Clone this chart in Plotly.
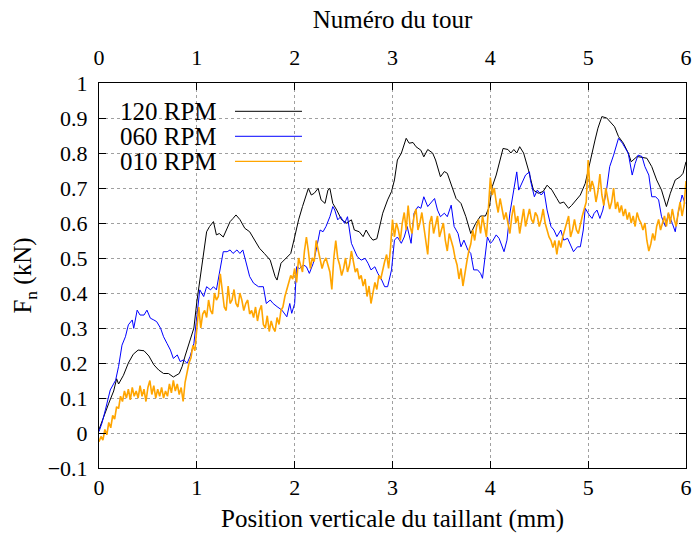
import numpy as np
import plotly.graph_objects as go

# ---- data ----
black_x = [0.0,0.05,0.1,0.15,0.18,0.2,0.25,0.3,0.35,0.4,
           0.46,0.51,0.56,0.61,0.66,0.71,0.76,0.82,0.85,0.88,
           0.94,0.97,1.0,1.03,1.07,1.1,1.13,1.17,1.2,1.23,
           1.27,1.3,1.34,1.37,1.4,1.44,1.49,1.54,1.59,1.64,
           1.69,1.75,1.8,1.82,1.86,1.91,1.96,2.0,2.04,2.08,
           2.14,2.17,2.2,2.24,2.27,2.31,2.34,2.36,2.39,2.43,
           2.48,2.53,2.58,2.61,2.66,2.7,2.73,2.77,2.8,2.84,
           2.87,2.9,2.95,2.99,3.02,3.05,3.09,3.14,3.17,3.21,
           3.24,3.29,3.32,3.36,3.41,3.44,3.49,3.53,3.56,3.61,
           3.65,3.7,3.75,3.8,3.85,3.9,3.95,3.99,4.02,4.06,
           4.1,4.13,4.18,4.21,4.24,4.27,4.3,4.34,4.39,4.44,
           4.49,4.54,4.58,4.63,4.68,4.71,4.75,4.8,4.83,4.88,
           4.92,4.97,5.02,5.07,5.1,5.14,5.19,5.24,5.27,5.31,
           5.36,5.41,5.44,5.5,5.55,5.6,5.65,5.7,5.75,5.8,
           5.84,5.89,5.94,5.97,6.0]
black_y = [0.01,0.05,0.085,0.12,0.155,0.14,0.165,0.2,0.225,0.237,
           0.235,0.22,0.195,0.18,0.17,0.17,0.16,0.17,0.19,0.22,
           0.275,0.3,0.375,0.437,0.523,0.575,0.59,0.604,0.566,0.57,
           0.56,0.58,0.604,0.613,0.623,0.61,0.585,0.575,0.551,0.528,
           0.513,0.494,0.447,0.437,0.485,0.5,0.513,0.56,0.609,0.647,
           0.699,0.68,0.685,0.699,0.666,0.656,0.694,0.699,0.656,0.637,
           0.609,0.6,0.609,0.58,0.575,0.561,0.58,0.561,0.551,0.555,
           0.59,0.628,0.666,0.69,0.723,0.78,0.799,0.842,0.828,0.83,
           0.818,0.808,0.789,0.81,0.8,0.78,0.732,0.747,0.742,0.704,
           0.67,0.656,0.618,0.57,0.599,0.62,0.62,0.647,0.704,0.737,
           0.78,0.813,0.81,0.8,0.81,0.8,0.818,0.8,0.751,0.694,
           0.685,0.69,0.708,0.694,0.67,0.656,0.66,0.642,0.65,0.665,
           0.68,0.713,0.78,0.837,0.871,0.904,0.9,0.885,0.875,0.847,
           0.828,0.8,0.775,0.79,0.787,0.785,0.761,0.723,0.694,0.647,
           0.685,0.723,0.732,0.742,0.775]

blue_x = [0.0,0.03,0.065,0.115,0.17,0.2,0.235,0.27,0.3,0.34,
          0.355,0.39,0.42,0.46,0.49,0.525,0.56,0.59,0.63,0.66,
          0.695,0.73,0.76,0.8,0.83,0.865,0.9,0.93,0.97,1.0,
          1.03,1.07,1.1,1.14,1.17,1.2,1.24,1.27,1.31,1.34,
          1.37,1.41,1.44,1.47,1.51,1.54,1.58,1.63,1.68,1.71,
          1.75,1.78,1.82,1.87,1.92,1.95,1.97,2.0,2.02,2.05,
          2.09,2.12,2.15,2.19,2.22,2.26,2.29,2.32,2.36,2.39,
          2.41,2.44,2.47,2.51,2.54,2.58,2.61,2.64,2.68,2.72,
          2.75,2.78,2.82,2.85,2.89,2.92,2.95,2.99,3.02,3.05,
          3.09,3.12,3.15,3.19,3.22,3.26,3.29,3.32,3.36,3.39,
          3.43,3.46,3.49,3.53,3.56,3.6,3.63,3.67,3.7,3.73,
          3.77,3.8,3.83,3.87,3.9,3.92,3.95,3.97,4.0,4.02,
          4.06,4.09,4.14,4.17,4.2,4.24,4.27,4.29,4.33,4.36,
          4.4,4.41,4.45,4.48,4.52,4.55,4.58,4.62,4.65,4.68,
          4.72,4.75,4.79,4.82,4.85,4.89,4.92,4.95,4.97,5.01,
          5.04,5.06,5.09,5.12,5.15,5.19,5.22,5.26,5.29,5.31,
          5.35,5.38,5.41,5.45,5.48,5.51,5.55,5.58,5.62,5.65,
          5.69,5.72,5.75,5.79,5.82,5.86,5.89,5.92,5.96,5.99]
blue_y = [0.004,0.028,0.066,0.123,0.151,0.19,0.251,0.275,0.309,0.323,
          0.299,0.351,0.337,0.337,0.351,0.328,0.323,0.318,0.299,0.275,
          0.256,0.237,0.213,0.223,0.204,0.209,0.199,0.218,0.256,0.332,
          0.409,0.39,0.418,0.409,0.418,0.409,0.466,0.518,0.518,0.523,
          0.513,0.523,0.513,0.523,0.48,0.447,0.428,0.418,0.418,0.37,
          0.38,0.37,0.361,0.351,0.332,0.37,0.342,0.37,0.475,0.47,
          0.48,0.475,0.456,0.485,0.523,0.58,0.575,0.59,0.618,0.647,
          0.637,0.609,0.618,0.599,0.618,0.542,0.523,0.504,0.494,0.499,
          0.485,0.466,0.475,0.456,0.437,0.418,0.418,0.466,0.551,0.56,
          0.542,0.56,0.59,0.542,0.628,0.647,0.642,0.675,0.647,0.656,
          0.67,0.637,0.618,0.628,0.618,0.651,0.59,0.57,0.532,0.551,
          0.523,0.513,0.466,0.466,0.456,0.442,0.504,0.56,0.542,0.547,
          0.566,0.556,0.518,0.551,0.628,0.699,0.746,0.694,0.718,0.737,
          0.746,0.722,0.675,0.694,0.68,0.69,0.637,0.59,0.58,0.561,
          0.58,0.551,0.556,0.537,0.518,0.532,0.532,0.58,0.642,0.623,
          0.613,0.627,0.637,0.613,0.637,0.699,0.761,0.794,0.828,0.842,
          0.828,0.813,0.799,0.737,0.77,0.794,0.79,0.761,0.737,0.675,
          0.675,0.666,0.618,0.59,0.628,0.599,0.575,0.628,0.68,0.656]

orange_x = np.round(np.arange(301) * 0.02, 2)
orange_y = [
    -0.025,-0.01,-0.02,0.01,-0.005,0.03,0.015,0.05,0.04,0.075,
    0.07,0.105,0.09,0.12,0.10,0.125,0.095,0.13,0.105,0.12,
    0.10,0.135,0.105,0.125,0.09,0.13,0.15,0.11,0.135,0.10,
    0.125,0.105,0.13,0.10,0.12,0.105,0.14,0.115,0.15,0.12,
    0.14,0.11,0.13,0.09,0.145,0.17,0.20,0.215,0.25,0.235,
    0.30,0.36,0.30,0.34,0.35,0.33,0.38,0.35,0.34,0.40,
    0.38,0.39,0.455,0.40,0.36,0.35,0.42,0.37,0.38,0.41,
    0.37,0.36,0.40,0.38,0.35,0.37,0.38,0.34,0.35,0.33,
    0.36,0.32,0.35,0.365,0.31,0.30,0.335,0.29,0.32,0.30,
    0.29,0.33,0.31,0.35,0.36,0.39,0.41,0.43,0.45,0.44,
    0.47,0.43,0.50,0.48,0.46,0.52,0.56,0.52,0.47,0.50,
    0.49,0.55,0.52,0.50,0.47,0.49,0.50,0.48,0.46,0.41,
    0.50,0.55,0.50,0.48,0.45,0.47,0.50,0.46,0.48,0.52,
    0.49,0.46,0.47,0.44,0.45,0.42,0.44,0.39,0.42,0.37,
    0.40,0.43,0.41,0.45,0.44,0.47,0.49,0.51,0.47,0.53,
    0.61,0.56,0.60,0.58,0.55,0.60,0.63,0.58,0.65,0.59,
    0.57,0.62,0.64,0.58,0.60,0.63,0.59,0.56,0.51,0.60,
    0.62,0.57,0.60,0.62,0.56,0.58,0.60,0.55,0.52,0.57,
    0.55,0.53,0.50,0.48,0.44,0.47,0.42,0.46,0.49,0.52,
    0.54,0.58,0.55,0.59,0.61,0.57,0.62,0.59,0.56,0.64,
    0.73,0.68,0.70,0.66,0.63,0.67,0.64,0.61,0.63,0.60,
    0.57,0.62,0.65,0.60,0.62,0.57,0.61,0.64,0.59,0.62,
    0.64,0.61,0.60,0.63,0.62,0.59,0.61,0.64,0.60,0.58,
    0.56,0.55,0.53,0.55,0.51,0.55,0.53,0.56,0.58,0.60,
    0.62,0.56,0.58,0.61,0.58,0.57,0.60,0.62,0.64,0.66,
    0.78,0.69,0.72,0.70,0.66,0.69,0.74,0.68,0.65,0.70,
    0.67,0.64,0.66,0.70,0.64,0.66,0.63,0.65,0.62,0.64,
    0.61,0.63,0.60,0.62,0.59,0.63,0.61,0.60,0.58,0.60,
    0.55,0.52,0.54,0.57,0.55,0.59,0.61,0.58,0.60,0.62,
    0.59,0.63,0.60,0.64,0.61,0.59,0.63,0.66,0.62,0.65,
    0.72]

series_names = ["120 RPM", "060 RPM", "010 RPM"]
series_colors = ["#000000", "#0000ff", "#ffa500"]

FONT = "Liberation Serif"
TICK_SIZE = 22
TITLE_SIZE = 25

fig = go.Figure()
fig.add_trace(go.Scatter(x=black_x, y=black_y, mode="lines", name=series_names[0],
                         line=dict(color=series_colors[0], width=1)))
fig.add_trace(go.Scatter(x=blue_x, y=blue_y, mode="lines", name=series_names[1],
                         line=dict(color=series_colors[1], width=1)))
fig.add_trace(go.Scatter(x=orange_x, y=orange_y, mode="lines", name=series_names[2],
                         line=dict(color=series_colors[2], width=1.6)))
# carrier for the top axis (invisible)
fig.add_trace(go.Scatter(x=black_x, y=black_y, mode="lines", xaxis="x2",
                         line=dict(width=0, color="rgba(0,0,0,0)"),
                         hoverinfo="skip", showlegend=False))

# gnuplot-like legend: text then line sample
leg_y = [0.9265, 0.8616, 0.7966]
for name, col, yy in zip(series_names, series_colors, leg_y):
    fig.add_annotation(x=0.2027, y=yy, xref="paper", yref="paper", text=name,
                       showarrow=False, xanchor="right", yanchor="middle",
                       borderpad=0,
                       font=dict(family=FONT, size=25, color="black"))
    fig.add_shape(type="line", xref="paper", yref="paper", x0=0.2317, x1=0.3458,
                  y0=yy, y1=yy, line=dict(color=col, width=1.3 if col == "#ffa500" else 1))

axis_common = dict(
    ticks="inside", ticklen=7, tickcolor="black", tickwidth=1,
    showline=True, linecolor="black", linewidth=1, zeroline=False,
    automargin=False, ticklabeloverflow="allow",
    tickfont=dict(family=FONT, size=TICK_SIZE, color="black"),
)

fig.update_layout(
    width=693, height=533,
    margin=dict(l=99, r=7, t=83, b=65, autoexpand=False),
    paper_bgcolor="white", plot_bgcolor="white",
    showlegend=False,
    font=dict(family=FONT, size=TICK_SIZE, color="black"),
    xaxis=dict(range=[0, 6], dtick=1, tick0=0, mirror=True,
               showgrid=True, gridcolor="#a0a0a0", griddash="dot", gridwidth=1,
               title=dict(text="Position verticale du taillant (mm)",
                          font=dict(family=FONT, size=TITLE_SIZE), standoff=11),
               ticklabelstandoff=0,
               **axis_common),
    xaxis2=dict(range=[0, 6], dtick=1, tick0=0, overlaying="x", side="top",
                showgrid=False,
                title=dict(text="Numéro du tour", font=dict(family=FONT, size=TITLE_SIZE), standoff=9),
                ticklabelstandoff=8,
                **axis_common),
    yaxis=dict(range=[-0.1, 1], dtick=0.1, tick0=0, mirror="ticks",
               showgrid=True, gridcolor="#a0a0a0", griddash="dot", gridwidth=1,
               title=dict(text="F<sub>n</sub> (kN)", font=dict(family=FONT, size=TITLE_SIZE), standoff=8),
               ticklabelstandoff=6,
               **axis_common),
)

# remove the browser's default 8px page margin so the figure fills the window
fig.write_html("out.html",
               config={"displayModeBar": False},
               post_script="document.body.style.margin='0';document.body.style.overflow='hidden';")
